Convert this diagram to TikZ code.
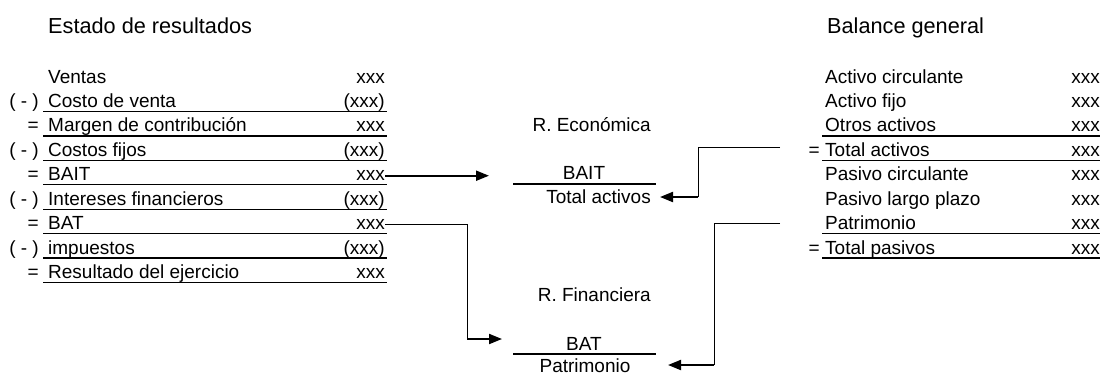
\documentclass[tikz,border=0pt]{standalone}
\usepackage{fontspec}
\setmainfont{Liberation Sans}
\usetikzlibrary{arrows.meta}

\begin{document}
\begin{tikzpicture}[x=1pt,y=-1pt,
    every node/.style={inner sep=0pt,font=\fontsize{19}{22}\selectfont},
    title/.style={anchor=base west,font=\fontsize{21.7}{26}\selectfont},
    rule/.style={line width=1.3pt},
    link/.style={line width=1pt},
    flow/.style={line width=2pt,-{Triangle[length=13pt,width=10pt]}}]
\useasboundingbox (0,0) rectangle (1104,373);

% Titles
\node[title] (er) at (48,33) {Estado de resultados};
\node[title] (bg) at (827,33) {Balance general};

% Income statement
\foreach \i/\pre/\txt/\val in {1//Ventas/xxx,
    2/{( - )}/Costo de venta/{(xxx)},
    3/=/Margen de contribución/xxx,
    4/{( - )}/Costos fijos/{(xxx)},
    5/=/BAIT/xxx,
    6/{( - )}/Intereses financieros/{(xxx)},
    7/=/BAT/xxx,
    8/{( - )}/impuestos/{(xxx)},
    9/=/Resultado del ejercicio/xxx} {
  \node[anchor=base east] (lp\i) at (39,{83+24.43*(\i-1)}) {\pre};
  \node[anchor=base west] (lt\i) at (48,{83+24.43*(\i-1)}) {\txt};
  \node[anchor=base east] (lv\i) at (385,{83+24.43*(\i-1)}) {\val};
}
\foreach \i in {2,...,9}
  \draw[rule] (43,{87+24.43*(\i-1)}) -- (387,{87+24.43*(\i-1)});

% Balance sheet
\foreach \i/\pre/\txt in {1//Activo circulante,
    2//Activo fijo,
    3//Otros activos,
    4/=/Total activos,
    5//Pasivo circulante,
    6//Pasivo largo plazo,
    7//Patrimonio,
    8/=/Total pasivos} {
  \node[anchor=base east] (rp\i) at (820,{83+24.43*(\i-1)}) {\pre};
  \node[anchor=base west] (rt\i) at (825,{83+24.43*(\i-1)}) {\txt};
  \node[anchor=base east] (rv\i) at (1100,{83+24.43*(\i-1)}) {xxx};
}
\foreach \i in {3,4,7,8}
  \draw[rule] (822,{87+24.43*(\i-1)}) -- (1100,{87+24.43*(\i-1)});

% Economic return
\node[anchor=base east] (reco) at (651,131) {R. Económica};
\node[anchor=base] (bait) at (584,179.5) {BAIT};
\draw[rule] (513,184) -- (656,184);
\node[anchor=base east] (tact) at (651,203) {Total activos};

% Financial return
\node[anchor=base east] (rfin) at (651,301) {R. Financiera};
\node[anchor=base] (bat) at (584,350) {BAT};
\draw[rule] (513,354) -- (656,354);
\node[anchor=base] (patr) at (585,372) {Patrimonio};

% Connectors
\coordinate (baittip) at ([xshift=104pt]lv5.east);
\draw[flow] (lv5.east) -- (baittip);

\coordinate (batbend) at (467,339);
\coordinate (battip) at (502,339);
\draw[link] (lv7.east) -| (batbend);
\draw[flow] (batbend) -- (battip);

\coordinate (tastart) at (780,147);
\coordinate (tabend) at (698,197);
\coordinate (tatip) at (660,197);
\draw[link] (tastart) -| (tabend);
\draw[flow] (tabend) -- (tatip);

\coordinate (patstart) at (780,223);
\coordinate (patbend) at (714,365);
\coordinate (pattip) at (668,365);
\draw[link] (patstart) -| (patbend);
\draw[flow] (patbend) -- (pattip);

\end{tikzpicture}
\end{document}
